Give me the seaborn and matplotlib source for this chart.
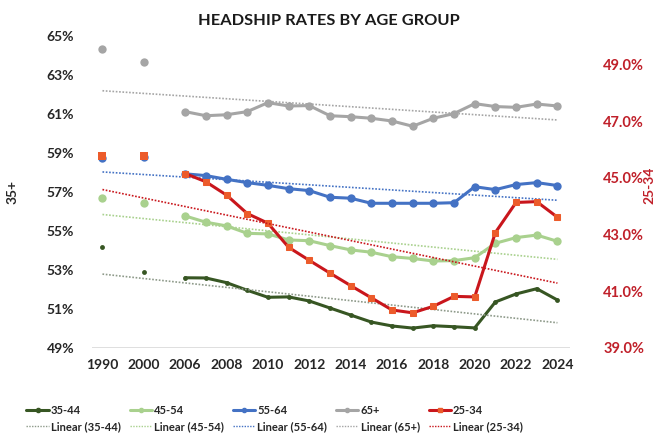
import numpy as np
import pandas as pd
import matplotlib
matplotlib.use("Agg")
import matplotlib.pyplot as plt
import seaborn as sns
from matplotlib.lines import Line2D

# categories (1990 and 2000 are followed by an empty slot on the axis)
years = [1990, 2000] + list(range(2006, 2025))
slots = [0, 2] + list(range(4, 23))
tick_labels = ["1990", "2000"] + [str(y) for y in range(2006, 2025, 2)]

age_35_44 = [54.18, 52.91, 52.60, 52.59, 52.35, 51.96, 51.60, 51.62, 51.41, 51.05, 50.69,
             50.33, 50.13, 50.02, 50.14, 50.09, 50.03, 51.36, 51.77, 52.04, 51.46]
age_45_54 = [56.71, 56.45, 55.77, 55.45, 55.26, 54.88, 54.85, 54.54, 54.50, 54.25, 54.03,
             53.91, 53.68, 53.59, 53.46, 53.48, 53.63, 54.37, 54.66, 54.79, 54.47]
age_55_64 = [58.73, 58.81, 57.93, 57.84, 57.65, 57.48, 57.34, 57.17, 57.07, 56.73, 56.68,
             56.42, 56.42, 56.42, 56.42, 56.45, 57.27, 57.12, 57.38, 57.48, 57.33]
age_65p = [64.33, 63.65, 61.12, 60.91, 60.96, 61.12, 61.58, 61.41, 61.43, 60.91, 60.86,
           60.78, 60.64, 60.37, 60.78, 61.02, 61.53, 61.38, 61.34, 61.51, 61.41]
age_25_34 = [45.77, 45.77, 45.15, 44.86, 44.39, 43.74, 43.40, 42.55, 42.09, 41.64, 41.20,
             40.77, 40.34, 40.24, 40.47, 40.82, 40.80, 43.07, 44.13, 44.16, 43.61]

sns.set_style("white")
plt.rcParams["font.family"] = ["Lato", "DejaVu Sans"]
plt.rcParams["font.weight"] = "bold"

fig = plt.figure(figsize=(6.58, 4.37), dpi=100)
ax = fig.add_axes([0.14, 0.2037, 0.726, 0.714])
ax2 = ax.twinx()

left_series = [
    ("35-44", age_35_44, "#375623", "#8E9A8A", 3.5),
    ("45-54", age_45_54, "#A9D18E", "#A9D18E", 6),
    ("55-64", age_55_64, "#4472C4", "#4472C4", 6),
    ("65+", age_65p, "#A5A5A5", "#A5A5A5", 6),
]

x = np.array(slots)
line_handles, trend_handles = [], []
for name, vals, col, tcol, ms in left_series:
    v = np.array(vals)
    sns.lineplot(x=x[2:], y=v[2:], ax=ax, color=col, lw=2.2, marker="o",
                 markersize=ms, markeredgewidth=0)
    sns.scatterplot(x=x[:2], y=v[:2], ax=ax, color=col, s=ms ** 2, linewidth=0)
    k, b = np.polyfit(x, v, 1)
    ax.plot([0, 22], [b, b + 22 * k], color=tcol, lw=1.2, ls=(0, (1, 1)))
    line_handles.append(Line2D([], [], color=col, lw=2.2, marker="o", markersize=3))
    trend_handles.append(Line2D([], [], color=tcol, lw=1, ls=(0, (1, 1))))

v = np.array(age_25_34)
red, red_mk = "#C9161C", "#EC5B2B"
sns.lineplot(x=x[2:], y=v[2:], ax=ax2, color=red, lw=2.2, marker="s", markersize=5,
             markerfacecolor=red_mk, markeredgecolor=red_mk)
sns.scatterplot(x=x[:2], y=v[:2], ax=ax2, color=red_mk, marker="s", s=30, linewidth=0)
k, b = np.polyfit(x, v, 1)
ax2.plot([0, 22], [b, b + 22 * k], color=red, lw=1.2, ls=(0, (1, 1)))
line_handles.append(Line2D([], [], color=red, lw=2.2, marker="s", markersize=3,
                           markerfacecolor=red_mk, markeredgecolor=red_mk))
trend_handles.append(Line2D([], [], color=red, lw=1, ls=(0, (1, 1))))

ax.set_xlim(-0.5, 22.6)
ax.set_ylim(49, 65)
ax2.set_ylim(39, 50)
ax.set_xticks(range(0, 23, 2))
ax.set_xticklabels(tick_labels)
ax.set_yticks(range(49, 66, 2))
ax.set_yticklabels([f"{t}%" for t in range(49, 66, 2)])
ax2.set_yticks(range(39, 50, 2))
ax2.set_yticklabels([f"{t:.1f}%" for t in range(39, 50, 2)])

ax.tick_params(axis="y", length=0, labelsize=10, colors="#262626", pad=13)
ax.tick_params(axis="x", length=0, labelsize=10, colors="#262626", pad=8)
ax2.tick_params(axis="y", length=0, labelsize=10.5, colors="#C0202A", pad=24)
for a in (ax, ax2):
    for s in a.spines.values():
        s.set_visible(False)
ax.axhline(49, color="#D9D9D9", lw=1.2, zorder=0)

ax.set_ylabel("35+", fontsize=10, fontweight="bold")
ax.yaxis.set_label_coords(-0.155, 0.5)
ax2.set_ylabel("25-34", fontsize=10, fontweight="bold", color="#C0202A")
ax2.yaxis.set_label_coords(1.155, 0.52)
fig.text(0.5, 0.952, "HEADSHIP RATES BY AGE GROUP", ha="center", va="center",
         fontsize=11.8, fontweight="bold", color="#1a1a1a")

handles, labels = [], []
names = ["35-44", "45-54", "55-64", "65+", "25-34"]
for h, t, n in zip(line_handles, trend_handles, names):
    handles += [h, t]
    labels += [n, f"Linear ({n})"]
fig.legend(handles, labels, ncol=5, loc="lower left", bbox_to_anchor=(0.025, -0.012),
           frameon=False, fontsize=8, handlelength=2.0, handletextpad=0.2,
           columnspacing=0.8, labelspacing=0.5)

fig.savefig("out.png", dpi=100)
